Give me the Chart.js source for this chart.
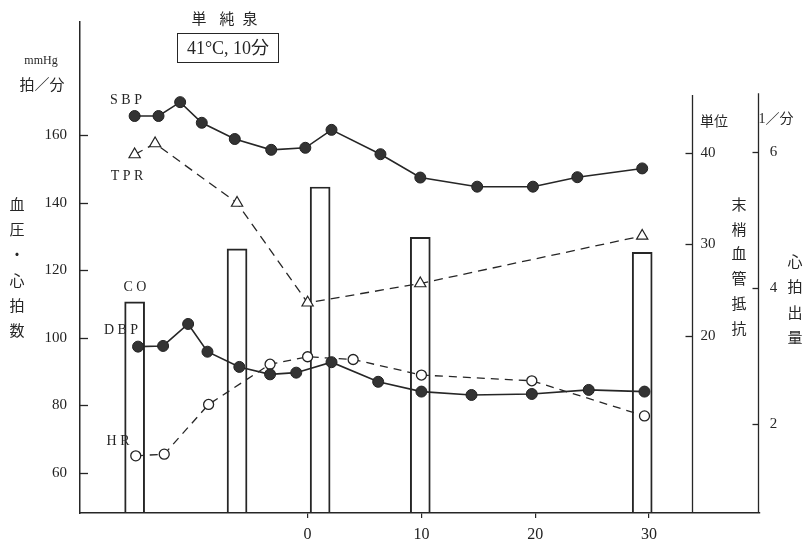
<!DOCTYPE html>
<html><head><meta charset="utf-8">
<script src="https://cdn.jsdelivr.net/npm/chart.js@4"></script>
<style>html,body{margin:0;padding:0;background:#fff}#wrap{width:807px;height:542px;position:relative}</style>
</head><body><div id="wrap"><canvas id="c" width="807" height="542"></canvas></div>
<script>
// ---- data (time in minutes relative to start of bathing) ----
const sbpTime  = [-15.2,-13.1,-11.2,-9.3,-6.4,-3.2,-0.2,2.1,6.4,9.9,14.9,19.8,23.7,29.4];
const sbpValue = [165.6,165.6,169.7,163.6,158.8,155.6,156.2,161.5,154.3,147.4,144.7,144.7,147.5,150.1];
const dbpTime  = [-14.9,-12.7,-10.5,-8.8,-6.0,-3.3,-1.0,2.1,6.2,10.0,14.4,19.7,24.7,29.6];
const dbpValue = [97.4,97.6,104.1,95.9,91.4,89.2,89.7,92.8,87.0,84.1,83.1,83.4,84.6,84.1];
const hrTime   = [-15.1,-12.6,-8.7,-3.3,0,4.0,10.0,19.7,29.6];
const hrValue  = [65.1,65.6,80.3,92.2,94.4,93.6,89.0,87.3,76.9];
const tprTime  = [-15.2,-13.4,-6.2,0,9.9,29.4];
const tprValue = [39.8,41.0,34.5,23.6,25.7,30.9];
const coTime   = [-15.2,-6.2,1.1,9.9,29.4];
const coValue  = [3.80,4.58,5.49,4.75,4.53];
const timeTicks = [0,10,20,30];
const bpTicks   = [60,80,100,120,140,160];
const tprTicks  = [20,30,40];
const coTicks   = [2,4,6];

// ---- axis geometry (in data units) ----
const xRange = [-20, 39.75];
const bpRange = [48.2, 193.4];
const tprRange = [0.62, 54.28];
const coRange = [0.696, 7.916];
const tprAxisAt = 33.8, tprAxisTop = 46.3, coAxisTop = 6.87;

const pts = (t, v) => t.map((x, i) => ({x, y: v[i]}));
const INK = '#262626';
const serif = '"Liberation Serif", "Noto Sans CJK JP", serif';
const cjk = '"Noto Sans CJK JP", sans-serif';

const deco = {
  id: 'deco',
  afterDraw(chart) {
    const {ctx, chartArea: a, scales: s} = chart;
    ctx.save();
    ctx.strokeStyle = INK; ctx.fillStyle = INK; ctx.lineWidth = 1.3;
    const line = (x1, y1, x2, y2) => { ctx.beginPath(); ctx.moveTo(x1, y1); ctx.lineTo(x2, y2); ctx.stroke(); };
    const text = (t, x, y, align, font) => { ctx.font = font; ctx.textAlign = align || 'center'; ctx.textBaseline = 'middle'; ctx.fillText(t, x, y); };
    const vtext = (t, x, y0, step, font) => { [...t].forEach((ch, i) => text(ch, x, y0 + i * step, 'center', font)); };

    // inner ticks on left axis
    bpTicks.forEach(v => { const y = Math.round(s.y.getPixelForValue(v)) + 0.5; line(a.left, y, a.left + 8, y); });

    // TPR axis
    const xt = Math.round(s.x.getPixelForValue(tprAxisAt)) + 0.5;
    line(xt, s.yT.getPixelForValue(tprAxisTop), xt, a.bottom);
    tprTicks.forEach(v => { const y = Math.round(s.yT.getPixelForValue(v)) + 0.5; line(xt - 7, y, xt, y); text(String(v), xt + 8, y, 'left', '15px ' + serif); });

    // CO axis
    const xc = Math.round(a.right) - 1.5;
    line(xc, s.yC.getPixelForValue(coAxisTop), xc, a.bottom);
    coTicks.forEach(v => { const y = Math.round(s.yC.getPixelForValue(v)) + 0.5; line(xc - 6, y, xc, y); text(String(v), xc + 15, y, 'center', '15px ' + serif); });

    // heading
    text('単', 199, 18, 'center', '15px ' + cjk);
    text('純', 227, 18, 'center', '15px ' + cjk);
    text('泉', 250, 18, 'center', '15px ' + cjk);
    ctx.lineWidth = 1;
    ctx.strokeRect(177.5, 33.5, 101, 29);
    text('41°C, 10分', 228, 49, 'center', '18px ' + serif);

    // left axis titles
    text('mmHg', 41, 61, 'center', '12px ' + serif);
    text('拍／分', 42, 84, 'center', '15px ' + cjk);
    vtext('血圧・心拍数', 17, 204, 25.3, '15px ' + cjk);

    // right axis titles
    text('単位', 714, 121, 'center', '14px ' + cjk);
    text('1／分', 776, 119, 'center', '14px ' + serif);
    vtext('末梢血管抵抗', 739, 204, 24.8, '15px ' + cjk);
    vtext('心拍出量', 795, 261, 25.5, '15px ' + cjk);

    // series labels
    text('S B P', 126, 100, 'center', '14px ' + serif);
    text('T P R', 127, 176, 'center', '14px ' + serif);
    text('C O', 135, 287, 'center', '14px ' + serif);
    text('D B P', 121, 330, 'center', '14px ' + serif);
    text('H R', 118, 441, 'center', '14px ' + serif);
    ctx.restore();
  }
};

new Chart(document.getElementById('c'), {
  type: 'line',
  data: {
    datasets: [
      { type: 'bar', label: 'CO', data: pts(coTime, coValue), yAxisID: 'yC', order: 10,
        backgroundColor: 'rgba(255,255,255,0)', borderColor: INK, borderWidth: 1.3, barThickness: 20, borderSkipped: 'bottom' },
      { label: 'SBP', data: pts(sbpTime, sbpValue), yAxisID: 'y', borderColor: INK, borderWidth: 1.6,
        pointRadius: 5.5, pointBackgroundColor: '#333', pointBorderColor: '#222', pointBorderWidth: 1, tension: 0 },
      { label: 'DBP', data: pts(dbpTime, dbpValue), yAxisID: 'y', borderColor: INK, borderWidth: 1.6,
        pointRadius: 5.5, pointBackgroundColor: '#333', pointBorderColor: '#222', pointBorderWidth: 1, tension: 0 },
      { label: 'HR', data: pts(hrTime, hrValue), yAxisID: 'y', borderColor: INK, borderWidth: 1.3, borderDash: [8, 6],
        pointRadius: 5, pointBackgroundColor: '#fff', pointBorderColor: '#222', pointBorderWidth: 1.3, tension: 0 },
      { label: 'TPR', data: pts(tprTime, tprValue), yAxisID: 'yT', borderColor: INK, borderWidth: 1.3, borderDash: [9, 6],
        pointStyle: 'triangle', pointRadius: 6.5, pointBackgroundColor: '#fff', pointBorderColor: '#222', pointBorderWidth: 1.2, tension: 0 }
    ]
  },
  options: {
    responsive: false, animation: false, devicePixelRatio: 1,
    layout: { padding: { top: 22, right: 47, left: 0, bottom: 0 } },
    plugins: { legend: { display: false }, tooltip: { enabled: false } },
    scales: {
      x: { type: 'linear', min: xRange[0], max: xRange[1], position: 'bottom', offset: false,
        afterFit: sc => { sc.height = 29; },
        afterBuildTicks: sc => { sc.ticks = timeTicks.map(v => ({value: v})); },
        border: { display: true, color: INK, width: 1.5 },
        grid: { offset: false, drawOnChartArea: false, drawTicks: true, tickLength: 5, color: INK, lineWidth: 1.2 },
        ticks: { color: '#222', padding: 7, font: { family: 'Liberation Serif', size: 16 } } },
      y: { type: 'linear', min: bpRange[0], max: bpRange[1], position: 'left',
        afterFit: sc => { sc.width = 80; },
        afterBuildTicks: sc => { sc.ticks = bpTicks.map(v => ({value: v})); },
        border: { display: true, color: INK, width: 1.5 },
        grid: { drawOnChartArea: false, drawTicks: false },
        ticks: { color: '#222', padding: 13, font: { family: 'Liberation Serif', size: 15 } } },
      yT: { type: 'linear', min: tprRange[0], max: tprRange[1], display: false },
      yC: { type: 'linear', min: coRange[0], max: coRange[1], display: false }
    }
  },
  plugins: [deco]
});
</script>
</body></html>
